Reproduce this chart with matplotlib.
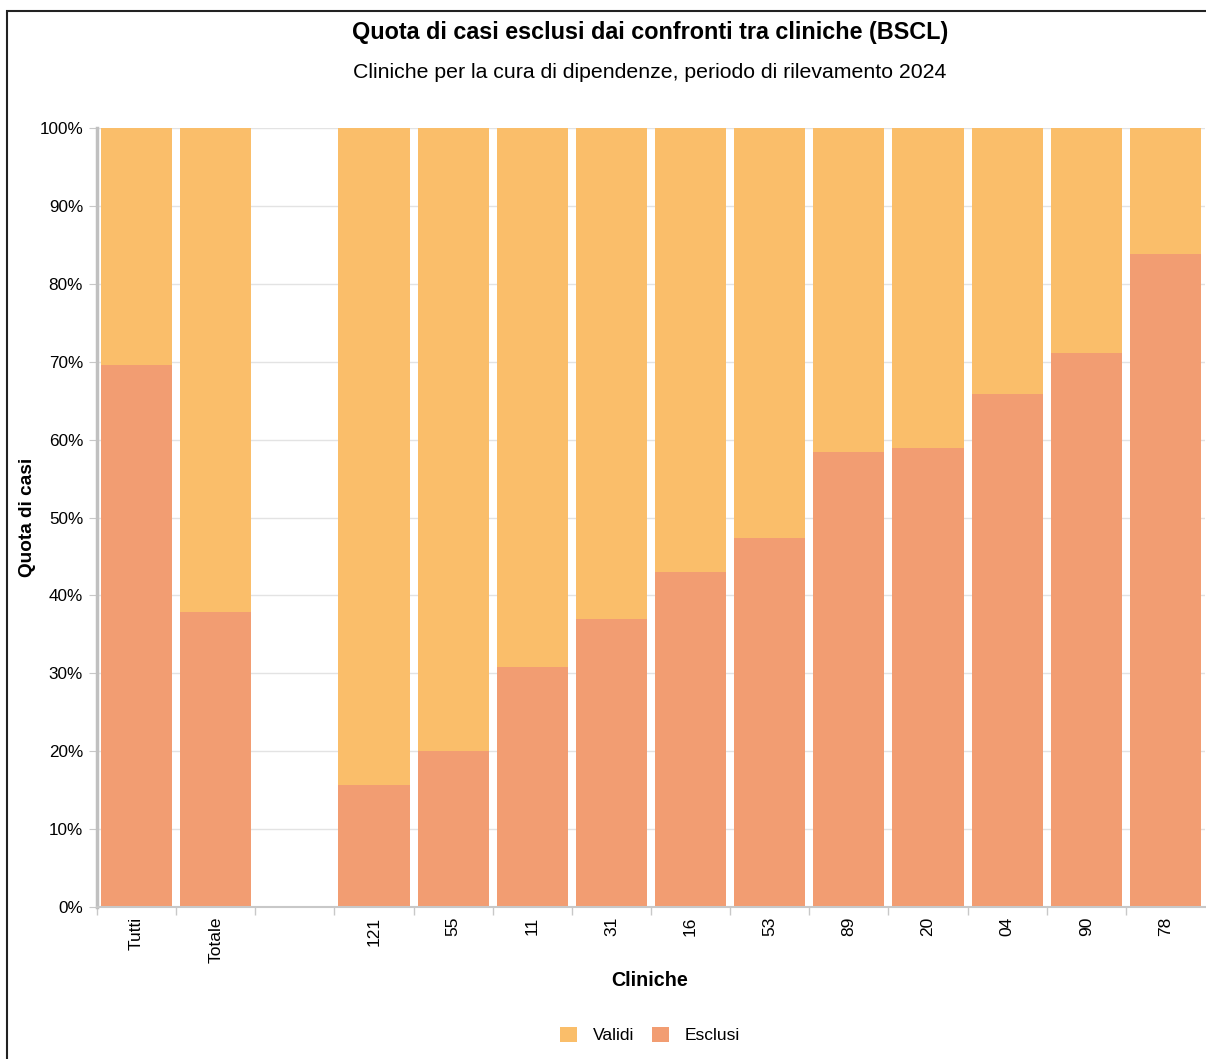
import numpy as np
import matplotlib.pyplot as plt
from matplotlib.patches import Rectangle
from matplotlib.ticker import FuncFormatter, FixedLocator

plt.rcParams['font.family'] = ['Liberation Sans', 'DejaVu Sans']

# data
cliniche = ['Tutti', 'Totale', '', '121', '55', '11', '31', '16', '53', '89', '20', '04', '90', '78']
esclusi = [69.6, 37.9, 0, 15.7, 20.0, 30.8, 37.0, 43.0, 47.4, 58.4, 58.9, 65.9, 71.1, 83.8]
validi = [100 - v if c != '' else 0 for c, v in zip(cliniche, esclusi)]

col_validi = '#FABE6A'
col_esclusi = '#F29D72'

fig = plt.figure(figsize=(12.06, 10.59), dpi=100)
ax = fig.add_axes([97/1206, 1 - 907/1059, (1205-97)/1206, (907-128)/1059])

x = np.arange(len(cliniche))
ax.bar(x, esclusi, width=0.9, color=col_esclusi, label='Esclusi', zorder=2)
ax.bar(x, validi, width=0.9, bottom=esclusi, color=col_validi, label='Validi', zorder=2)

ax.set_xlim(-0.5, len(cliniche) - 0.5)
ax.set_ylim(0, 100)
ax.set_yticks(np.arange(0, 101, 10))
ax.yaxis.set_major_formatter(FuncFormatter(lambda v, p: '%d%%' % v))
ax.grid(axis='y', color='#e3e3e3', lw=1, zorder=0)

ax.set_xticks(x)
ax.set_xticklabels(cliniche, rotation=90, va='top')
ax.xaxis.set_minor_locator(FixedLocator(np.arange(-0.5, len(cliniche) - 1, 1)))
ax.tick_params(axis='x', which='major', length=0, pad=7, labelsize=12.5)
ax.tick_params(axis='x', which='minor', length=6, color='#c8c8c8', width=1)
ax.tick_params(axis='y', length=6, color='#c8c8c8', labelsize=12.3, pad=4)

for s in ['top', 'right']:
    ax.spines[s].set_visible(False)
ax.spines['left'].set_color('#c0c0c0')
ax.spines['left'].set_linewidth(2.5)
ax.spines['bottom'].set_color('#c8c8c8')
ax.spines['bottom'].set_linewidth(1.5)

fig.text(650/1206, 1 - 32/1059, 'Quota di casi esclusi dai confronti tra cliniche (BSCL)',
         ha='center', va='center', fontsize=16.8, fontweight='bold')
fig.text(650/1206, 1 - 73/1059, 'Cliniche per la cura di dipendenze, periodo di rilevamento 2024',
         ha='center', va='center', fontsize=15.3)
fig.text(27/1206, 1 - 517/1059, 'Quota di casi', rotation=90, ha='center', va='center',
         fontsize=13.7, fontweight='bold')
fig.text(650/1206, 1 - 981/1059, 'Cliniche', ha='center', va='center',
         fontsize=14.2, fontweight='bold')

h, l = ax.get_legend_handles_labels()
fig.legend(h[::-1], l[::-1], loc='center', bbox_to_anchor=(650/1206, 1 - 1035/1059), ncol=2,
           frameon=False, fontsize=12.5, handlelength=1, handleheight=1, columnspacing=1.0,
           handletextpad=0.9)

# frame around the figure (cropped at right/bottom)
fig.patches.append(Rectangle((7/1206, -0.1), 1.2, 1 - 11/1059 + 0.1, transform=fig.transFigure,
                             fill=False, edgecolor='#222222', lw=1.5))

plt.savefig('out.png', dpi=100)
